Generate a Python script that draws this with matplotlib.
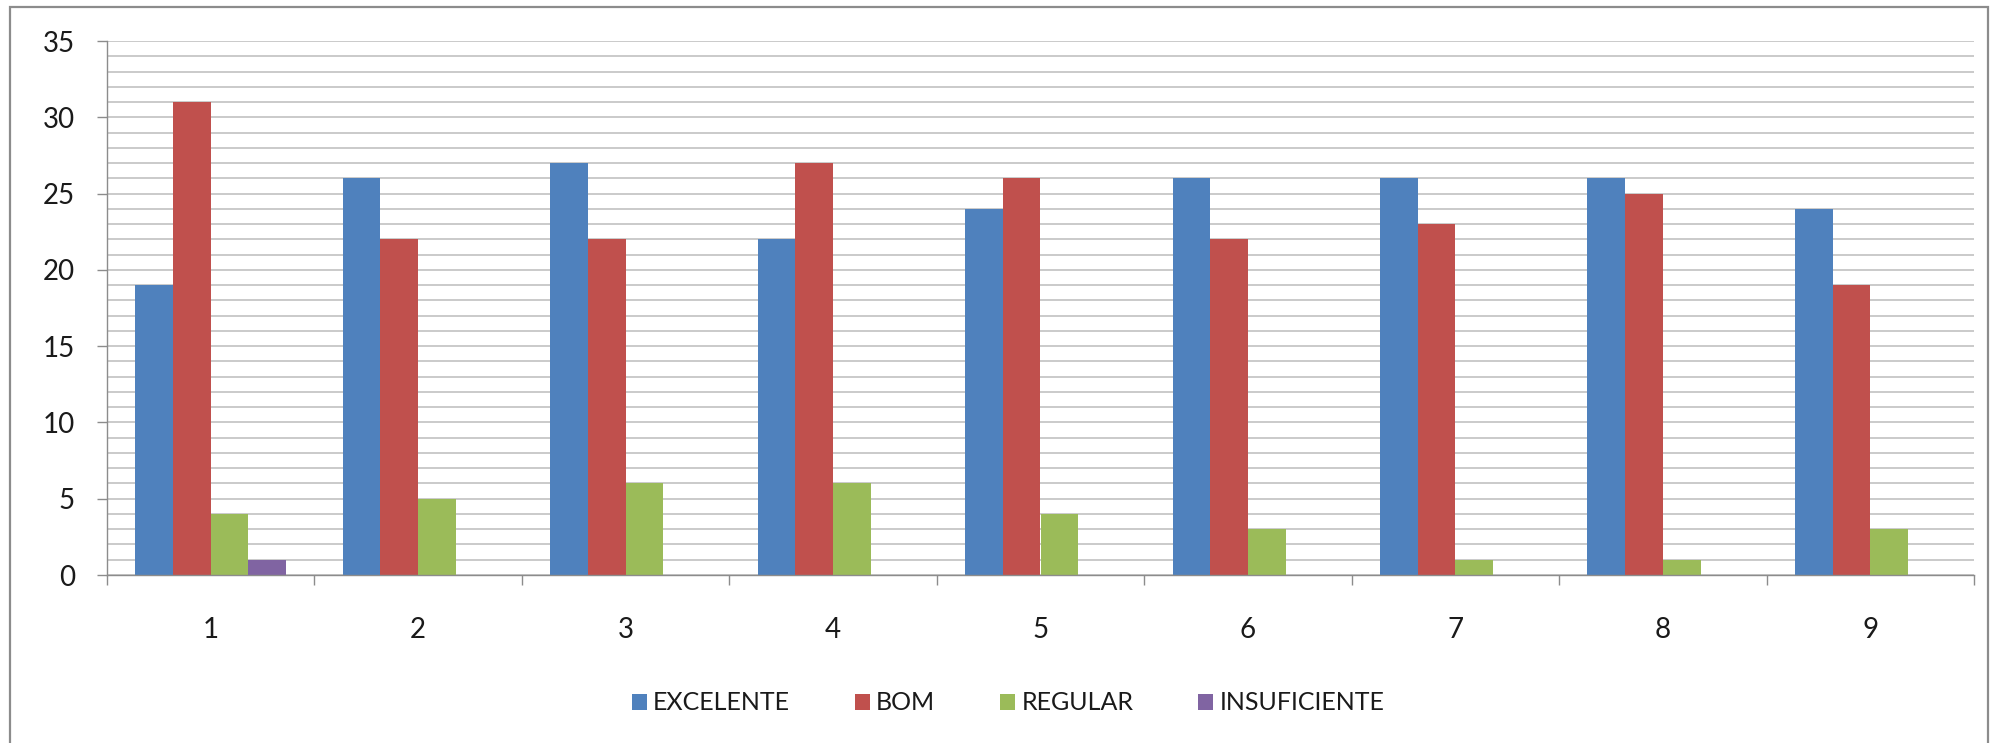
import matplotlib.pyplot as plt
import numpy as np
from matplotlib.patches import Rectangle, Patch

# Avaliação por item (1 a 9)
categorias = ['1', '2', '3', '4', '5', '6', '7', '8', '9']
excelente = [19, 26, 27, 22, 24, 26, 26, 26, 24]
bom = [31, 22, 22, 27, 26, 22, 23, 25, 19]
regular = [4, 5, 6, 6, 4, 3, 1, 1, 3]
insuficiente = [1, 0, 0, 0, 0, 0, 0, 0, 0]

series = [('EXCELENTE', excelente, '#4F81BD'),
          ('BOM', bom, '#C0504D'),
          ('REGULAR', regular, '#9BBB59'),
          ('INSUFICIENTE', insuficiente, '#8064A2')]

W, H = 1995, 743
fig = plt.figure(figsize=(W / 100, H / 100), dpi=100)
fig.patch.set_facecolor('white')

# moldura externa do gráfico
fig.patches.append(Rectangle((10 / W, -0.02), (1988 - 10) / W, 1.02 - 7 / H,
                             transform=fig.transFigure, fill=False,
                             edgecolor='#8C8C8C', linewidth=1.6))

ax = fig.add_axes([107 / W, 1 - 575 / H, (1974 - 107) / W, (575 - 41) / H])

x = np.arange(len(categorias))
bw = 1 / 5.5
offsets = np.array([-1.5, -0.5, 0.5, 1.5]) * bw
for (nome, vals, cor), off in zip(series, offsets):
    ax.bar(x + off, vals, width=bw, color=cor, linewidth=0, zorder=3)

ax.set_xlim(-0.5, len(categorias) - 0.5)
ax.set_ylim(0, 35)

ax.set_yticks(np.arange(0, 36, 5))
ax.set_yticks(np.arange(0, 36, 1), minor=True)
ax.yaxis.grid(True, which='both', color='#C6C6C6', linewidth=1.3, zorder=0)
ax.tick_params(axis='y', which='major', length=7, width=1, color='#8C8C8C',
               pad=16, labelsize=20, labelcolor='#1a1a1a')
ax.tick_params(axis='y', which='minor', length=0)

# ticks nas divisões das categorias, rótulos no centro
ax.set_xticks(np.arange(-0.5, len(categorias), 1))
ax.set_xticklabels([])
ax.set_xticks(x, minor=True)
ax.set_xticklabels(categorias, minor=True)
ax.tick_params(axis='x', which='major', length=7, width=1, color='#8C8C8C')
ax.tick_params(axis='x', which='minor', length=0, pad=30, labelsize=20,
               labelcolor='#1a1a1a')

for lbl in ax.get_yticklabels() + ax.get_xticklabels(minor=True):
    lbl.set_family('Lato')

for s in ['top', 'right']:
    ax.spines[s].set_visible(False)
for s in ['left', 'bottom']:
    ax.spines[s].set_color('#8C8C8C')
    ax.spines[s].set_linewidth(1)
ax.spines['bottom'].set_zorder(4)

handles = [Patch(facecolor=c, edgecolor='none') for _, _, c in series]
leg = fig.legend(handles, [n for n, _, _ in series], loc='center',
                 bbox_to_anchor=(1008 / W, 1 - 703 / H), ncol=4, frameon=False,
                 prop={'family': 'Lato', 'size': 18},
                 handlelength=0.6, handleheight=0.6, handletextpad=0.25,
                 columnspacing=2.6)
for t in leg.get_texts():
    t.set_color('#1a1a1a')

fig.savefig('out.png', dpi=100, facecolor='white')
